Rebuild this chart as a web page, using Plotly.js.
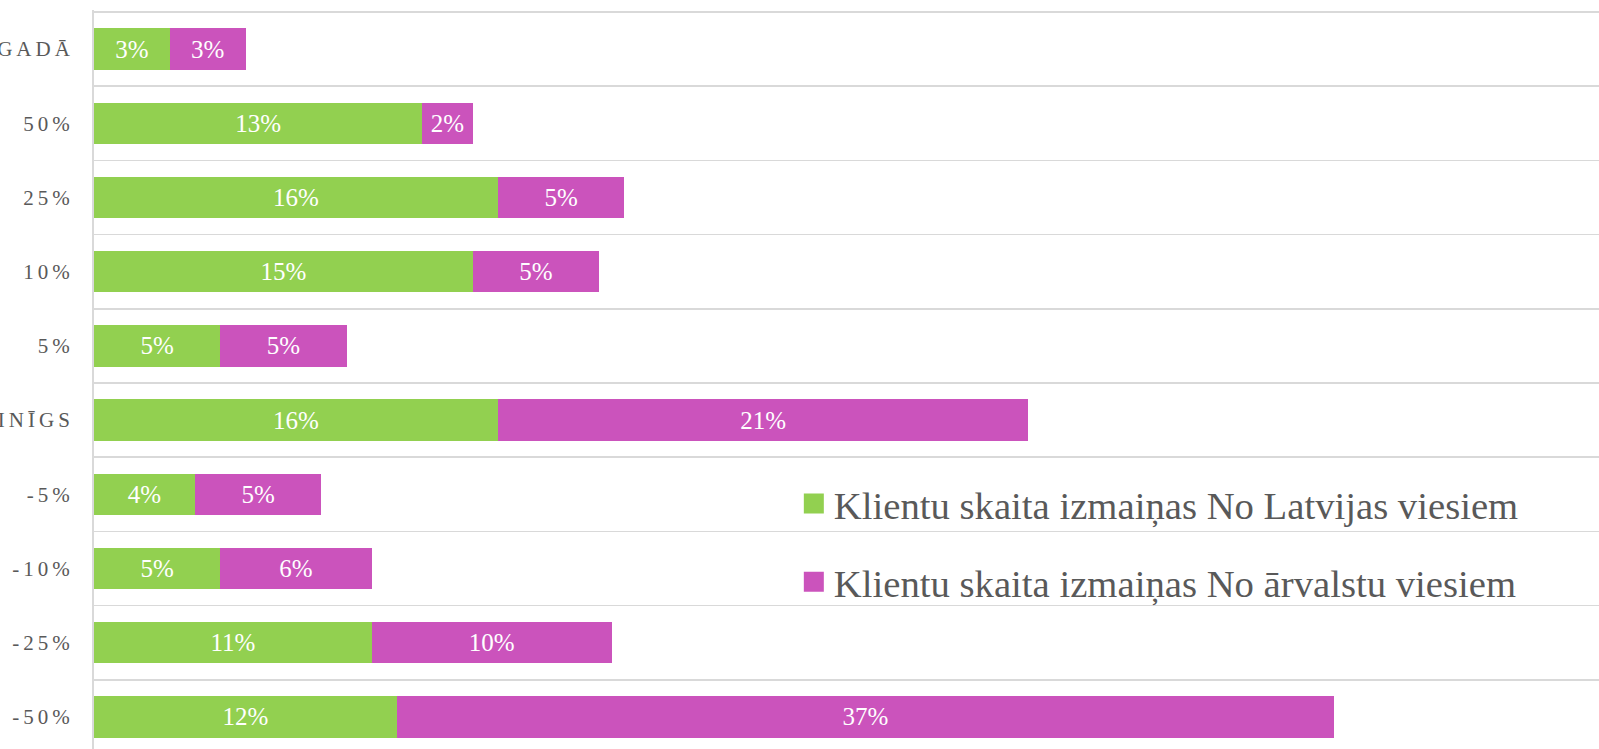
<!DOCTYPE html>
<html>
<head>
<meta charset="utf-8">
<script src="https://cdn.plot.ly/plotly-3.0.1.min.js"></script>
<style>
  body { margin: 0; background: #fff; }
  #klienti .ytick text { letter-spacing: 4px; }
</style>
</head>
<body>
<div id="klienti" style="width:1599px;height:749px;"></div>
<script>
// kategorijas no apakšas uz augšu
var kategorijas = ['-50%', '-25%', '-10%', '-5%', 'NEMAINĪGS', '5%', '10%', '25%', '50%', 'SLĒGTS ŠAJĀ GADĀ'];
var noLatvijas = [12, 11, 5, 4, 16, 5, 15, 16, 13, 3];
var noArvalstu = [37.1, 9.5, 6, 5, 21, 5, 5, 5, 2, 3];

var serifs = 'Liberation Serif, DejaVu Serif, serif';

var latv = {
  y: kategorijas,
  x: noLatvijas,
  name: 'Klientu skaita izmaiņas No Latvijas viesiem',
  legendgroup: 'a',
  type: 'bar',
  orientation: 'h',
  marker: { color: '#92d050', line: { width: 0 } },
  texttemplate: '%{x:.0f}%',
  textposition: 'inside',
  insidetextanchor: 'middle',
  textangle: 0,
  constraintext: 'none',
  textfont: { family: serifs, size: 25, color: '#ffffff' },
  hoverinfo: 'none'
};

var arv = {
  y: kategorijas,
  x: noArvalstu,
  name: 'Klientu skaita izmaiņas No ārvalstu viesiem',
  legendgroup: 'b',
  type: 'bar',
  orientation: 'h',
  marker: { color: '#cb53bc', line: { width: 0 } },
  texttemplate: '%{x:.0f}%',
  textposition: 'inside',
  insidetextanchor: 'middle',
  textangle: 0,
  constraintext: 'none',
  textfont: { family: serifs, size: 25, color: '#ffffff' },
  hoverinfo: 'none'
};

var data = [latv, arv];

var layout = {
  width: 1599,
  height: 749,
  barmode: 'stack',
  bargap: 0.443,
  paper_bgcolor: '#ffffff',
  plot_bgcolor: '#ffffff',
  font: { family: serifs, color: '#595959' },
  xaxis: {
    visible: false,
    range: [0, 59.6],
    fixedrange: true
  },
  yaxis: {
    type: 'category',
    range: [-0.433, 9.527],
    tickson: 'boundaries',
    showgrid: true,
    gridcolor: '#d9d9d9',
    gridwidth: 1.5,
    showline: true,
    linecolor: '#d9d9d9',
    linewidth: 2,
    ticks: '',
    ticklabelstandoff: 14,
    tickfont: { family: serifs, size: 21, color: '#595959' },
    automargin: false,
    fixedrange: true
  },
  showlegend: true,
  legend: {
    x: 0.465,
    xanchor: 'left',
    y: 0.375,
    yanchor: 'top',
    orientation: 'v',
    traceorder: 'grouped',
    tracegroupgap: 25,
    bgcolor: 'rgba(0,0,0,0)',
    font: { family: serifs, size: 38.7, color: '#595959' }
  },
  margin: { l: 94, r: 0, t: 10, b: 0, pad: 0 }
};

var config = { displayModeBar: false, staticPlot: true };

Plotly.newPlot('klienti', data, layout, config).then(function (gd) {
  // lielāki kvadrāti leģendā
  var ceļi = gd.querySelectorAll('.legend .legendpoints path');
  for (var i = 0; i < ceļi.length; i++) {
    ceļi[i].setAttribute('d', 'M10,10H-10V-10H10Z');
  }
});
</script>
</body>
</html>
